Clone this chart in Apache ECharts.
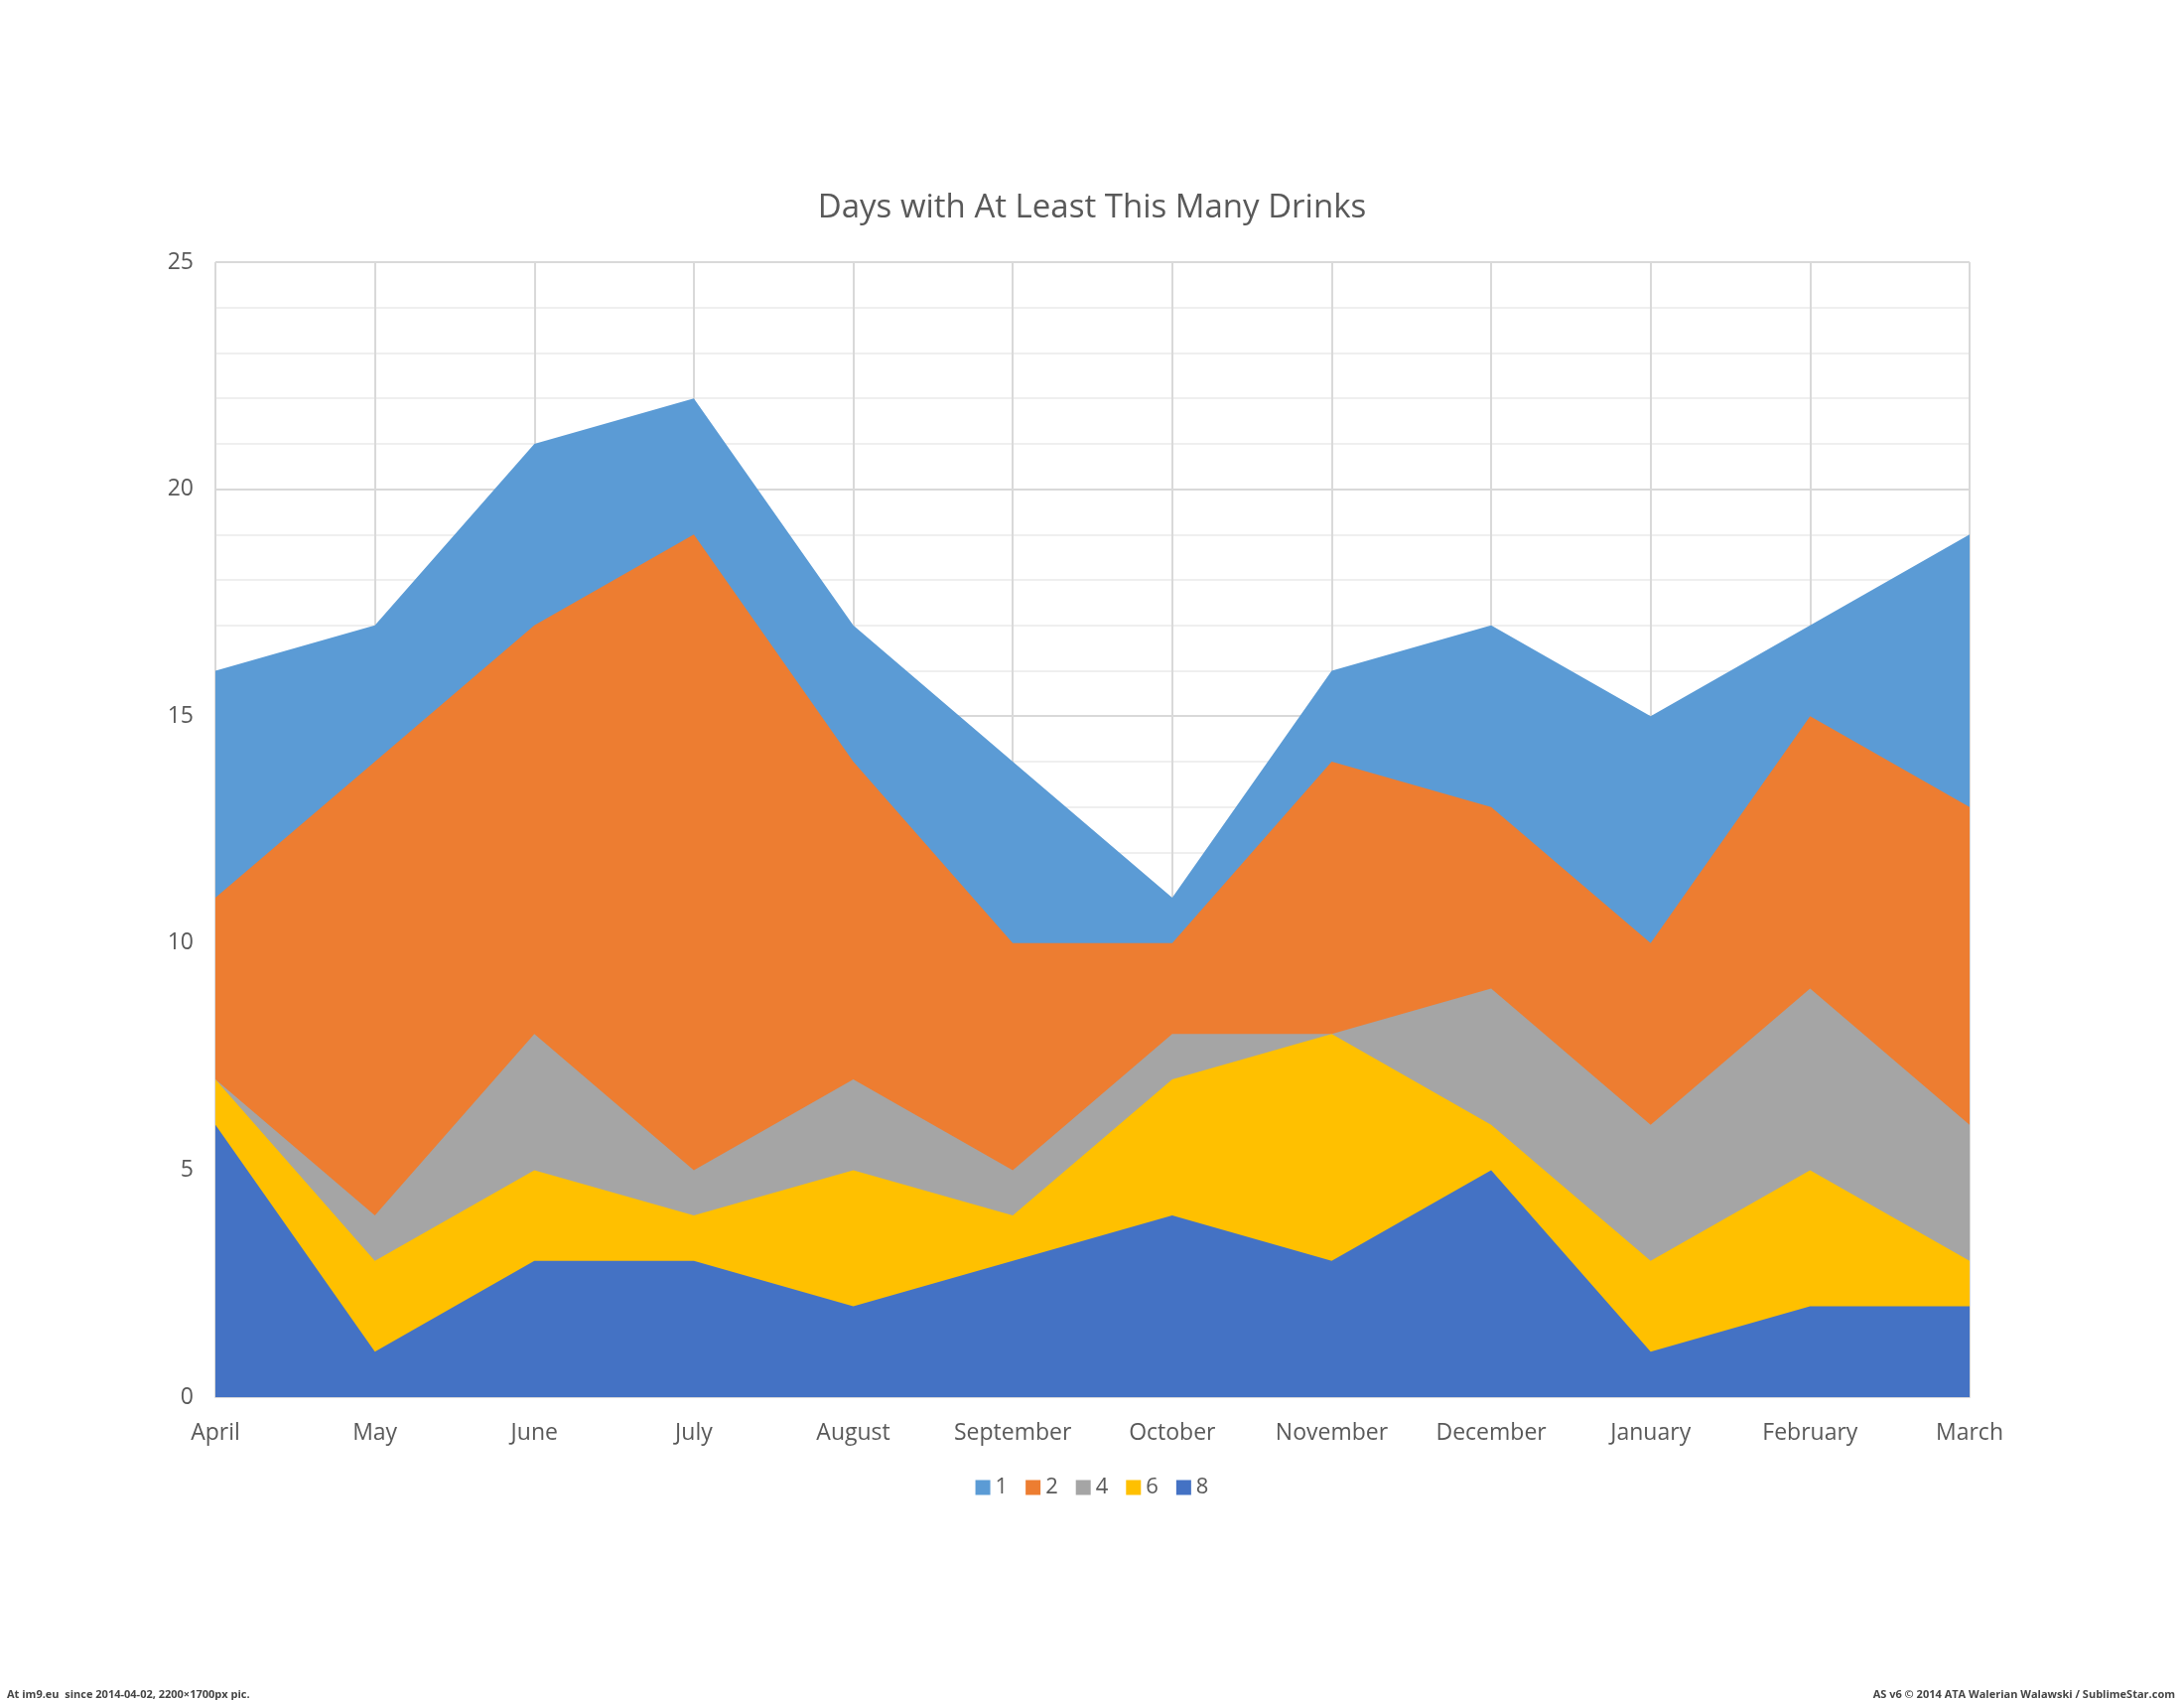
<!DOCTYPE html>
<html><head><meta charset="utf-8">
<script src="https://cdn.jsdelivr.net/npm/echarts@6/dist/echarts.min.js"></script>
<style>html,body{margin:0;background:#fff}#c{width:2200px;height:1712px}</style>
</head><body><div id="c"></div>
<script>
const months = ['April','May','June','July','August','September','October','November','December','January','February','March'];
const s1 = [16,17,21,22,17,14,11,16,17,15,17,19];
const s2 = [11,14,17,19,14,10,10,14,13,10,15,13];
const s4 = [7,4,8,5,7,5,8,8,9,6,9,6];
const s6 = [7,3,5,4,5,4,7,8,6,3,5,3];
const s8 = [6,1,3,3,2,3,4,3,5,1,2,2];
const names = ['1','2','4','6','8'];
const colors = ['#5B9BD5','#ED7D31','#A5A5A5','#FFC000','#4472C4'];
const all = [s1,s2,s4,s6,s8];

const chart = echarts.init(document.getElementById('c'));
chart.setOption({
  animation:false,
  textStyle:{fontFamily:'Open Sans'},
  title:[{text:'Days with At Least This Many Drinks',left:'center',top:188,
    textStyle:{fontSize:33,fontWeight:'normal',color:'#595959',fontFamily:'Open Sans'}},
    {text:'At im9.eu  since 2014-04-02, 2200×1700px pic.',left:2,top:1696,textStyle:{fontSize:11,fontWeight:'bold',color:'#444'}},
    {text:'AS v6 © 2014 ATA Walerian Walawski / SublimeStar.com',right:4,top:1696,textStyle:{fontSize:11,fontWeight:'bold',color:'#444'}}],
  legend:{data:names,bottom:198,left:'center',icon:'rect',itemWidth:15,itemHeight:15,itemGap:18,
    textStyle:{fontSize:22,color:'#595959'}},
  grid:{left:217,right:216,top:264,bottom:305},
  xAxis:{type:'category',data:months,boundaryGap:false,
    axisLine:{lineStyle:{color:'#d9d9d9',width:2}},axisTick:{show:false},
    axisLabel:{fontSize:23,color:'#595959',margin:25},
    splitLine:{show:true,lineStyle:{color:'#d9d9d9',width:2}}},
  yAxis:{type:'value',min:0,max:25,interval:5,
    axisLine:{show:false},axisTick:{show:false},
    axisLabel:{fontSize:23,color:'#595959',margin:22},
    splitLine:{lineStyle:{color:'#d9d9d9',width:2}},
    minorTick:{show:false,splitNumber:5},
    minorSplitLine:{show:true,lineStyle:{color:'#efefef',width:2}}},
  series: all.map((d,i)=>({name:names[i],type:'line',data:d,symbol:'none',
    lineStyle:{width:0},itemStyle:{color:colors[i]},
    areaStyle:{color:colors[i],opacity:1},z:2+i}))
});
</script></body></html>
